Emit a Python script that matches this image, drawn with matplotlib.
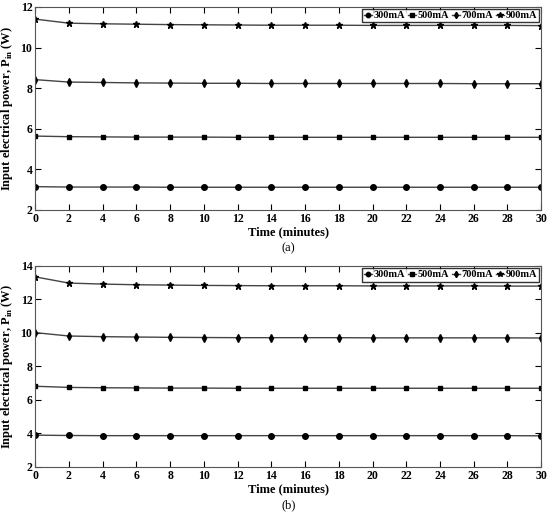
import matplotlib.pyplot as plt

plt.rcParams['font.family'] = ['Liberation Serif', 'DejaVu Serif']
plt.rcParams['font.weight'] = 'bold'
plt.rcParams['axes.labelweight'] = 'bold'
plt.rcParams['mathtext.fontset'] = 'custom'
plt.rcParams['mathtext.bf'] = 'Liberation Serif:bold'
plt.rcParams['mathtext.rm'] = 'Liberation Serif:bold'

time = [0, 2, 4, 6, 8, 10, 12, 14, 16, 18, 20, 22, 24, 26, 28, 30]
labels = ['300mA', '500mA', '700mA', '900mA']
markers = ['o', 's', 'd', '*']
msizes = [4, 3.5, 4, 5]

# (a)
a_300 = [3.15, 3.13, 3.13, 3.13, 3.12, 3.12, 3.12, 3.12, 3.12, 3.12, 3.12, 3.12, 3.12, 3.12, 3.12, 3.12]
a_500 = [5.64, 5.61, 5.60, 5.59, 5.59, 5.59, 5.58, 5.58, 5.58, 5.58, 5.58, 5.58, 5.58, 5.58, 5.58, 5.58]
a_700 = [8.42, 8.30, 8.28, 8.26, 8.25, 8.24, 8.24, 8.23, 8.23, 8.23, 8.23, 8.23, 8.23, 8.22, 8.22, 8.22]
a_900 = [11.40, 11.20, 11.17, 11.15, 11.13, 11.12, 11.11, 11.10, 11.10, 11.10, 11.09, 11.09, 11.09, 11.09, 11.09, 11.08]

# (b)
b_300 = [3.90, 3.88, 3.87, 3.87, 3.87, 3.87, 3.87, 3.87, 3.87, 3.87, 3.87, 3.87, 3.87, 3.87, 3.87, 3.86]
b_500 = [6.82, 6.75, 6.73, 6.72, 6.71, 6.71, 6.70, 6.70, 6.70, 6.70, 6.70, 6.70, 6.70, 6.70, 6.70, 6.70]
b_700 = [10.02, 9.82, 9.78, 9.76, 9.74, 9.73, 9.72, 9.72, 9.72, 9.72, 9.71, 9.71, 9.71, 9.71, 9.71, 9.70]
b_900 = [13.35, 12.98, 12.92, 12.88, 12.86, 12.84, 12.83, 12.82, 12.82, 12.82, 12.81, 12.81, 12.81, 12.81, 12.80, 12.80]

fig = plt.figure(figsize=(5.5, 5.18), dpi=100)
ax1 = fig.add_axes([0.064, 0.5946, 0.92, 0.392])
ax2 = fig.add_axes([0.064, 0.0985, 0.92, 0.388])


def draw(ax, series, ylim, yticks, tag):
    for ys, lab, m, ms in zip(series, labels, markers, msizes):
        ax.plot(time, ys, color='#444444', lw=1.0, marker=m, ms=ms,
                mfc='black', mec='black', label=lab)
    ax.set_xlim(0, 30)
    ax.set_ylim(*ylim)
    ax.set_xticks(time)
    ax.set_yticks(yticks)
    ax.tick_params(direction='in', top=True, right=True, labelsize=8.5, length=4, pad=2)
    for t in ax.get_xticklabels() + ax.get_yticklabels():
        t.set_fontweight('bold')
    for s in ax.spines.values():
        s.set_color('#555555')
    ax.set_xlabel('Time (minutes)', fontsize=9, fontweight='bold', labelpad=1)
    ax.set_ylabel(r'Input electrical power, P$_{\mathbf{in}}$ (W)', fontsize=9,
                  fontweight='bold', labelpad=4)
    ax.text(0.5, -0.16, tag, transform=ax.transAxes, ha='center', va='top',
            fontsize=9, fontweight='normal')
    ax.legend(loc='upper right', ncol=4, prop={'size': 7.5, 'weight': 'bold'},
              frameon=True, fancybox=False, edgecolor='black', handlelength=0.8,
              handletextpad=0.1, columnspacing=0.3, borderpad=0.2,
              borderaxespad=0.2, markerscale=0.8)


draw(ax1, [a_300, a_500, a_700, a_900], (2, 12), [2, 4, 6, 8, 10, 12], '(a)')
draw(ax2, [b_300, b_500, b_700, b_900], (2, 14), [2, 4, 6, 8, 10, 12, 14], '(b)')

fig.savefig('out.png', dpi=100)
